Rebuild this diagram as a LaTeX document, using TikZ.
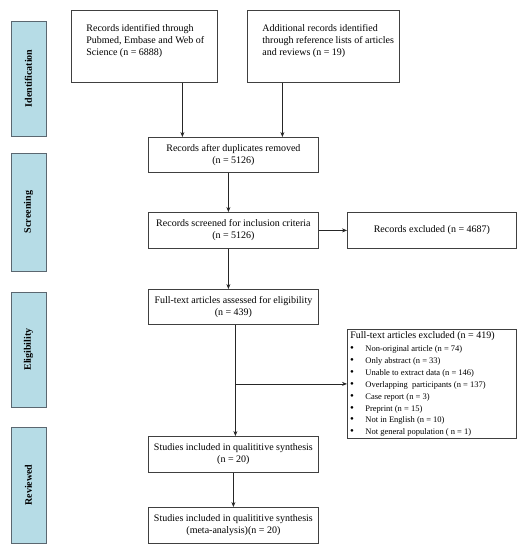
\documentclass[tikz,border=0pt]{standalone}
\usepackage{fontspec}
\setmainfont{Liberation Serif}
\usetikzlibrary{arrows.meta}
\definecolor{phasefill}{HTML}{B6DCE6}
\definecolor{phaseborder}{HTML}{5B6770}
\definecolor{boxline}{HTML}{404040}
\newcommand{\bul}{\makebox[18pt][l]{\hspace*{2.6pt}{\fontsize{11}{11}\selectfont\textbullet}}}
\begin{document}
\begin{tikzpicture}[x=1pt,y=-1pt,
  box/.style={draw=boxline, line width=0.8pt, fill=white, align=center,
    font=\fontsize{10}{12}\selectfont, inner sep=0pt, anchor=north west,
    minimum width=170pt, minimum height=36pt},
  phase/.style={draw=phaseborder, line width=1pt, fill=phasefill, inner sep=0pt,
    rotate=90, minimum height=35pt, font=\fontsize{10}{12}\selectfont\bfseries},
  arr/.style={-{Stealth[length=5pt,width=4pt]}, line width=0.7pt, draw=black!85},
  ln/.style={line width=0.7pt, draw=black!85}]
\useasboundingbox (0,0) rectangle (520,550);
% phase labels
\node[phase, minimum width=115pt] (pid) at (28.5,78.5) {Identification};
\node[phase, minimum width=118pt] (pscr) at (28.5,212) {Screening};
\node[phase, minimum width=115pt] (pel) at (28.5,349.5) {Eligibility};
\node[phase, minimum width=116pt] (prev) at (28.5,485) {Reviewed};
% top boxes
\node[box, minimum width=146pt, minimum height=72pt] (A) at (71,10)
  {\parbox[c][72pt][t]{146pt}{\vspace*{14.5pt}\raggedright\leftskip=15pt
   Records identified through\\Pubmed, Embase and Web of\\Science (n = 6888)}};
\node[box, minimum width=152pt, minimum height=72pt] (B) at (247,10)
  {\parbox[c][72pt][t]{152pt}{\vspace*{14.5pt}\raggedright\leftskip=15pt
   Additional records identified\\through reference lists of articles\\and reviews (n = 19)}};
% main column
\node[box, minimum height=35pt] (dup) at (148,137) {Records after duplicates removed\\(n = 5126)};
\node[box] (scr) at (148,212) {Records screened for inclusion criteria\\(n = 5126)};
\node[box, minimum width=169pt] (exc) at (347,212) {Records excluded (n = 4687)};
\node[box, minimum height=35pt] (full) at (148,289) {Full-text articles assessed for eligibility\\(n = 439)};
\node[box] (stud) at (148,436) {Studies included in qualititive synthesis\\(n = 20)};
\node[box] (meta) at (148,507) {Studies included in qualititive synthesis\\(meta-analysis)(n = 20)};
% exclusion list
\node[box, minimum width=169pt, minimum height=109pt, align=left] (list) at (347,329)
  {\parbox[c][109pt][t]{169pt}{\vspace*{2.5pt}\raggedright
   \fontsize{10}{12}\selectfont\hspace*{3pt}Full-text articles excluded (n = 419)\par
   \vspace{0.8pt}\fontsize{8.5}{11.9}\selectfont
   \bul Non-original article (n = 74)\par
   \bul Only abstract (n = 33)\par
   \bul Unable to extract data (n = 146)\par
   \bul Overlapping\ \ participants (n = 137)\par
   \bul Case report (n = 3)\par
   \bul Preprint (n = 15)\par
   \bul Not in English (n = 10)\par
   \bul Not general population ( n = 1)\par}};
% connectors
\draw[arr] ([xshift=38pt]A.south) -- ([xshift=38pt]A.south |- dup.north);
\draw[arr] ([xshift=-41pt]B.south) -- ([xshift=-41pt]B.south |- dup.north);
\draw[arr] ([xshift=-5pt]dup.south) -- ([xshift=-5pt]dup.south |- scr.north);
\draw[arr] (scr.east) -- (exc.west);
\draw[arr] ([xshift=-5pt]scr.south) -- ([xshift=-5pt]scr.south |- full.north);
\draw[arr] ([xshift=2pt]full.south) -- ([xshift=2pt]full.south |- stud.north);
\draw[arr] ([xshift=2pt]full.south |- list.west) -- (list.west);
\draw[arr] (stud.south) -- (meta.north);
\end{tikzpicture}
\end{document}
